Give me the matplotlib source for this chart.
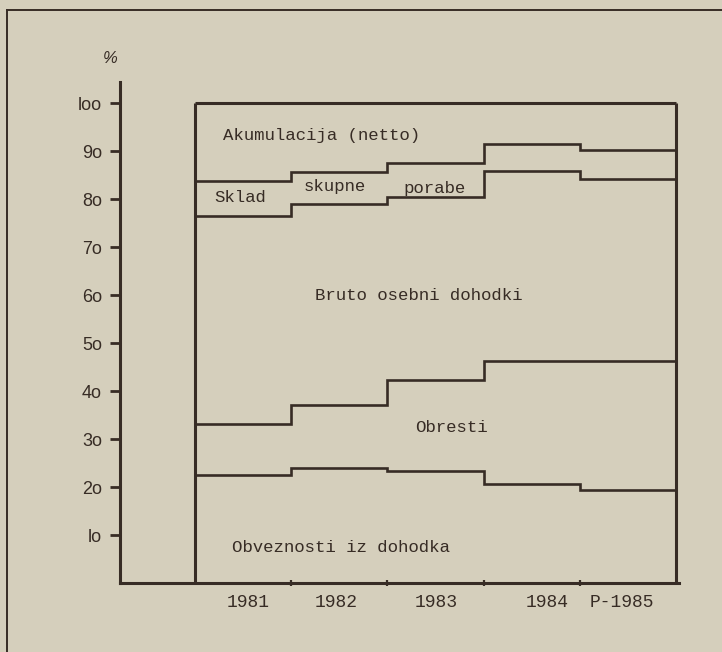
import numpy as np
import matplotlib
matplotlib.use('Agg')
import matplotlib.pyplot as plt
from matplotlib.lines import Line2D

# Shares of the income (%), bottom layer first
years = ['1981', '1982', '1983', '1984', 'P-1985']
obveznosti = [22.6, 24.0, 23.4, 20.6, 19.4]      # Obveznosti iz dohodka
obresti = [10.5, 13.1, 18.9, 25.7, 26.9]         # Obresti
bruto_od = [43.4, 41.9, 38.2, 39.5, 37.9]        # Bruto osebni dohodki
skupna_poraba = [7.3, 6.7, 7.1, 5.7, 6.0]        # Sklad skupne porabe
akumulacija = [16.2, 14.3, 12.4, 8.5, 9.8]       # Akumulacija (netto)

ytick_vals = [10, 20, 30, 40, 50, 60, 70, 80, 90, 100]
ytick_labels = ['lo', '2o', '3o', '4o', '5o', '6o', '7o', '8o', '9o', 'loo']

BG = '#d5cfbc'
INK = '#372c25'
MONO = 'Liberation Mono'

fig = plt.figure(figsize=(7.22, 6.52), dpi=100, facecolor=BG)
ax = fig.add_axes([120 / 722, 69 / 652, 559 / 722, 501 / 652])
ax.set_facecolor('none')
ax.set_xlim(-0.78, 5.03)
ax.set_ylim(0, 104.4)
for s in ['top', 'right']:
    ax.spines[s].set_visible(False)
for s in ['left', 'bottom']:
    ax.spines[s].set_linewidth(2.2)
    ax.spines[s].set_color(INK)

# stacked step boundaries
edges = np.arange(len(years) + 1)
layers = np.array([obveznosti, obresti, bruto_od, skupna_poraba, akumulacija])
tops = np.cumsum(layers, axis=0)
for row in tops[:-1]:
    ax.stairs(row, edges, baseline=None, color=INK, lw=1.9)

# outer box of the stack
ax.hlines(tops[-1][0], edges[0], edges[-1], color=INK, lw=2.2)
ax.vlines([edges[0], edges[-1]], 0, tops[-1][0], color=INK, lw=2.2)

# y axis
ax.set_yticks(ytick_vals)
ax.set_yticklabels(ytick_labels, fontfamily='Liberation Sans', fontsize=13, color=INK)
ax.tick_params(axis='y', length=7, width=2, color=INK, pad=6)

# x axis: small marks between years, labels under each year
ax.set_xticks(edges[1:-1])
ax.set_xticklabels([])
ax.tick_params(axis='x', which='major', direction='inout', length=4, width=1.6, color=INK)
ax.set_xticks([0.55, 1.47, 2.51, 3.66, 4.44], minor=True)
ax.set_xticklabels(years, minor=True, fontfamily=MONO, fontsize=13, color=INK)
ax.tick_params(axis='x', which='minor', length=0, pad=8)

ax.text(-0.88, 109.2, '%', fontfamily='Liberation Sans', fontsize=12, color=INK,
        style='italic', ha='center', va='center', clip_on=False)

lab = dict(fontfamily=MONO, fontsize=12.5, color=INK, ha='center', va='center')
ax.text(1.32, 93.2, 'Akumulacija (netto)', **lab)
ax.text(0.47, 80.4, 'Sklad', **lab)
ax.text(1.455, 82.7, 'skupne', **lab)
ax.text(2.49, 82.3, 'porabe', **lab)
ax.text(2.32, 60.0, 'Bruto osebni dohodki', **lab)
ax.text(2.66, 32.5, 'Obresti', **lab)
ax.text(1.52, 7.3, 'Obveznosti iz dohodka', **lab)

# frame of the scanned page
fig.add_artist(Line2D([7 / 722, 7 / 722], [0, 1 - 10 / 652], color=INK, lw=1.4))
fig.add_artist(Line2D([7 / 722, 1], [1 - 10 / 652, 1 - 10 / 652], color=INK, lw=1.4))

fig.savefig('out.png', dpi=100, facecolor=BG)
